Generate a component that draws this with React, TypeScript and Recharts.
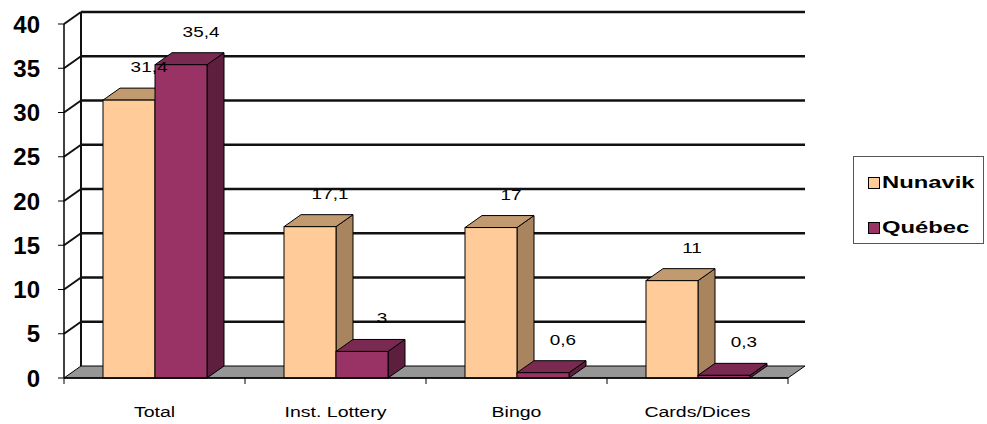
import { BarChart, Bar, XAxis, YAxis, CartesianGrid, Legend, LabelList } from 'recharts';

const categories = ['Total', 'Inst. Lottery', 'Bingo', 'Cards/Dices'];
const nunavik = [31.4, 17.1, 17, 11];
const quebec = [35.4, 3, 0.6, 0.3];
const yTicks = [0, 5, 10, 15, 20, 25, 30, 35, 40];

const data = categories.map((category, i) => ({
  category,
  Nunavik: nunavik[i],
  Québec: quebec[i],
}));

const FONT = '"Liberation Sans", Arial, sans-serif';
const DX = 17;
const DY = -12;

const colors = {
  Nunavik: { front: '#FFCC99', top: '#C29A70', side: '#A8845F' },
  Québec: { front: '#993366', top: '#7A2950', side: '#5E1F3F' },
};

const fmt = (v: number) => String(v).replace('.', ',');

function Bar3D(props: any) {
  const { x, y, width, height, c } = props;
  if (x == null || y == null) return null;
  const top = `${x},${y} ${x + DX},${y + DY} ${x + width + DX},${y + DY} ${x + width},${y}`;
  const side = `${x + width},${y} ${x + width + DX},${y + DY} ${x + width + DX},${y + height + DY} ${x + width},${y + height}`;
  return (
    <g>
      <polygon points={side} fill={c.side} stroke="#000" strokeWidth={1} />
      <polygon points={top} fill={c.top} stroke="#000" strokeWidth={1} />
      <rect x={x} y={y} width={width} height={height} fill={c.front} stroke="#000" strokeWidth={1} />
    </g>
  );
}

function GridLine(props: any) {
  const { x1, y1, x2, x, y, width, height, index } = props;
  const isFloor = Math.abs(y1 - (y + height)) < 0.5;
  if (isFloor) {
    const floor = `${x1},${y1} ${x1 + DX},${y1 + DY} ${x2 + DX},${y1 + DY} ${x2},${y1}`;
    const bounds = categories.map((_, i) => x + (width * i) / categories.length);
    bounds.push(x + width);
    return (
      <g key={`floor-${index}`}>
        <line x1={x1 + DX} y1={y + DY} x2={x1 + DX} y2={y1 + DY} stroke="#111" strokeWidth={2} />
        <polygon points={floor} fill="#969696" stroke="#000" strokeWidth={1} />
        {bounds.map((bx, i) => (
          <line key={i} x1={bx} y1={y1} x2={bx} y2={y1 + 6} stroke="#000" strokeWidth={1} />
        ))}
      </g>
    );
  }
  return (
    <g key={`grid-${index}`}>
      <line x1={x1} y1={y1} x2={x1 + DX} y2={y1 + DY} stroke="#111" strokeWidth={2} />
      <line x1={x1 + DX} y1={y1 + DY} x2={x2 + DX} y2={y1 + DY} stroke="#111" strokeWidth={2.5} />
    </g>
  );
}

function XTick(props: any) {
  const { x, y, payload } = props;
  return (
    <g transform={`translate(${x},${y}) scale(1.3,1)`}>
      <text textAnchor="middle" dy="0.71em" fontFamily={FONT} fontSize={15} fill="#000">
        {payload.value}
      </text>
    </g>
  );
}

function YTick(props: any) {
  const { x, y, payload } = props;
  return (
    <text x={x} y={y} dy="0.355em" textAnchor="end" fontFamily={FONT} fontSize={24} fontWeight="bold" fill="#000">
      {payload.value}
    </text>
  );
}

function ValueLabel(props: any) {
  const { x, y, width, value } = props;
  return (
    <g transform={`translate(${x + width / 2 + 20},${y - 28}) scale(1.35,1)`}>
      <text textAnchor="middle" fontFamily={FONT} fontSize={14} fill="#000">
        {fmt(value)}
      </text>
    </g>
  );
}

function LegendBox() {
  const items = [
    { name: 'Nunavik', color: colors.Nunavik.front },
    { name: 'Québec', color: colors.Québec.front },
  ];
  return (
    <div
      style={{
        width: 131,
        height: 88,
        border: '1px solid #555',
        background: '#fff',
        boxSizing: 'border-box',
        paddingTop: 14,
        paddingLeft: 14,
      }}
    >
      {items.map((it) => (
        <div key={it.name} style={{ display: 'flex', alignItems: 'center', height: 23, marginBottom: 22 }}>
          <span
            style={{
              width: 10,
              height: 10,
              border: '1.5px solid #000',
              background: it.color,
              display: 'inline-block',
              marginRight: 2,
            }}
          />
          <span
            style={{
              fontFamily: FONT,
              fontWeight: 'bold',
              fontSize: 17,
              display: 'inline-block',
              transform: 'scaleX(1.4)',
              transformOrigin: 'left center',
            }}
          >
            {it.name}
          </span>
        </div>
      ))}
    </div>
  );
}

export default function App() {
  return (
    <div style={{ position: 'absolute', left: 0, top: 0, background: '#fff' }}>
      <BarChart
        width={987}
        height={424}
        data={data}
        margin={{ top: 24, right: 68, bottom: 16, left: 0 }}
        barGap={0}
      >
        <CartesianGrid vertical={false} horizontal={GridLine} />
        <XAxis
          dataKey="category"
          height={30}
          tickLine={false}
          axisLine={{ stroke: '#000', strokeWidth: 1.5 }}
          tickSize={0}
          tickMargin={28}
          tick={<XTick />}
          interval={0}
        />
        <YAxis
          width={64}
          domain={[0, 40]}
          ticks={yTicks}
          interval={0}
          axisLine={{ stroke: '#000', strokeWidth: 1.5 }}
          tickLine={{ stroke: '#000' }}
          tickSize={6}
          tickMargin={18}
          tick={<YTick />}
        />
        <Legend
          layout="vertical"
          align="right"
          verticalAlign="middle"
          content={<LegendBox />}
          wrapperStyle={{ position: 'absolute', left: 853, top: 156, width: 131, height: 88 }}
        />
        <Bar
          dataKey="Nunavik"
          barSize={52}
          isAnimationActive={false}
          shape={(p: any) => <Bar3D {...p} c={colors.Nunavik} />}
        >
          <LabelList dataKey="Nunavik" content={<ValueLabel />} />
        </Bar>
        <Bar
          dataKey="Québec"
          barSize={52}
          isAnimationActive={false}
          shape={(p: any) => <Bar3D {...p} c={colors.Québec} />}
        >
          <LabelList dataKey="Québec" content={<ValueLabel />} />
        </Bar>
      </BarChart>
    </div>
  );
}
